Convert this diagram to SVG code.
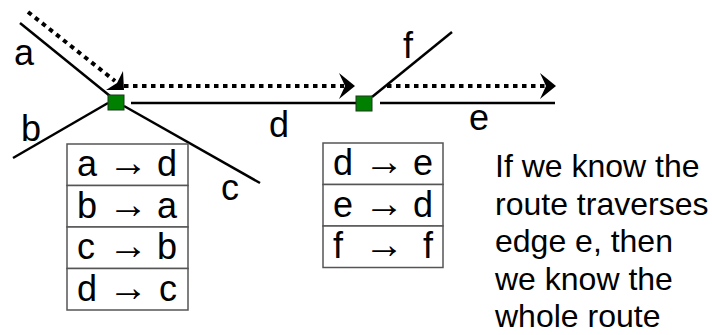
<svg xmlns="http://www.w3.org/2000/svg" width="712" height="335" viewBox="0 0 712 335">
<style>
.edge{stroke:#000;stroke-width:2.5;fill:none}
.dot{stroke:#000;stroke-width:4;fill:none;stroke-dasharray:4.5 4.5}
.head{fill:#000}
.node{fill:#008000;stroke:#1a3a1a;stroke-width:1}
.lbl{font-family:"Liberation Sans",Arial,sans-serif;font-size:36px;fill:#000}
.arr{font-size:40px}
.cell{fill:#fff;stroke:#555;stroke-width:1.5}
.txt{font-family:"Liberation Sans",Arial,sans-serif;font-size:32px;fill:#000}
</style>
<rect width="712" height="335" fill="#fff"/>
<g id="connectors">
<line class="edge" x1="20" y1="23" x2="110" y2="96"/>
<line class="edge" x1="13" y1="158" x2="108" y2="103"/>
<line class="edge" x1="124" y1="106" x2="260" y2="183"/>
<line class="edge" x1="131" y1="103" x2="356" y2="103"/>
<line class="edge" x1="380" y1="103" x2="555" y2="103"/>
<line class="edge" x1="372" y1="97" x2="452" y2="32"/>
<line class="dot" x1="28" y1="12" x2="115" y2="81"/>
<polygon class="head" points="123,71 124,90 106,90 117,83"/>
<line class="dot" x1="124" y1="86" x2="344" y2="86"/>
<polygon class="head" points="339,73 355,86 339,99 345,86"/>
<line class="dot" x1="387" y1="86" x2="545" y2="86"/>
<polygon class="head" points="540,73 556,86 540,99 546,86"/>
</g>
<g id="node1"><rect class="node" x="108" y="95" width="16" height="15"/></g>
<g id="node2"><rect class="node" x="356" y="96" width="16" height="15"/></g>
<g id="labels">
<text class="lbl" x="14" y="65">a</text>
<text class="lbl" x="21" y="141">b</text>
<text class="lbl" x="221" y="200">c</text>
<text class="lbl" x="269" y="137">d</text>
<text class="lbl" x="469" y="130">e</text>
<text class="lbl" x="403" y="58">f</text>
</g>
<g id="table1">
<rect class="cell" x="67" y="144" width="121" height="41.5"/>
<rect class="cell" x="67" y="185.5" width="121" height="41.5"/>
<rect class="cell" x="67" y="227" width="121" height="41.5"/>
<rect class="cell" x="67" y="268.5" width="121" height="41.5"/>
<text class="lbl" y="176"><tspan x="77">a</tspan><tspan class="arr" x="128" text-anchor="middle">→</tspan><tspan x="177" text-anchor="end">d</tspan></text>
<text class="lbl" y="217.5"><tspan x="77">b</tspan><tspan class="arr" x="128" text-anchor="middle">→</tspan><tspan x="177" text-anchor="end">a</tspan></text>
<text class="lbl" y="259"><tspan x="77">c</tspan><tspan class="arr" x="128" text-anchor="middle">→</tspan><tspan x="177" text-anchor="end">b</tspan></text>
<text class="lbl" y="300.5"><tspan x="77">d</tspan><tspan class="arr" x="128" text-anchor="middle">→</tspan><tspan x="177" text-anchor="end">c</tspan></text>
</g>
<g id="table2">
<rect class="cell" x="323" y="143" width="120" height="41.5"/>
<rect class="cell" x="323" y="184.5" width="120" height="41.5"/>
<rect class="cell" x="323" y="226" width="120" height="41.5"/>
<text class="lbl" y="175"><tspan x="333">d</tspan><tspan class="arr" x="384" text-anchor="middle">→</tspan><tspan x="433" text-anchor="end">e</tspan></text>
<text class="lbl" y="216.5"><tspan x="333">e</tspan><tspan class="arr" x="384" text-anchor="middle">→</tspan><tspan x="433" text-anchor="end">d</tspan></text>
<text class="lbl" y="258"><tspan x="333">f</tspan><tspan class="arr" x="384" text-anchor="middle">→</tspan><tspan x="433" text-anchor="end">f</tspan></text>
</g>
<g id="note">
<text class="txt"><tspan x="495" y="177">If we know the</tspan><tspan x="495" y="214.5">route traverses</tspan><tspan x="495" y="252">edge e, then</tspan><tspan x="495" y="289.5">we know the</tspan><tspan x="495" y="327">whole route</tspan></text>
</g>
</svg>
